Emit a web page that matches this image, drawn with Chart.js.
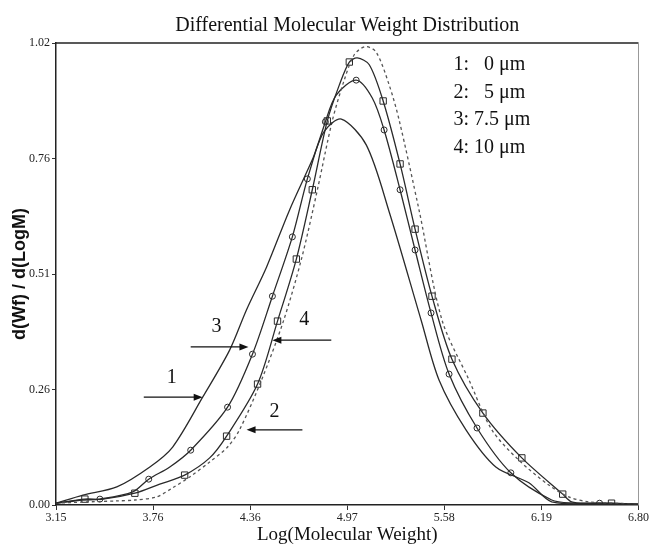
<!DOCTYPE html>
<html>
<head>
<meta charset="utf-8">
<script src="https://cdn.jsdelivr.net/npm/chart.js@4.4.1/dist/chart.umd.min.js"></script>
<style>
  html, body { margin: 0; padding: 0; background: #fff; }
</style>
</head>
<body>
<canvas id="mwdChart" width="650" height="547"></canvas>
<script>
// axis ticks as printed on the figure
const xTicks = [3.15, 3.7583, 4.3667, 4.975, 5.5833, 6.1917, 6.80];
const xTickLabels = ['3.15', '3.76', '4.36', '4.97', '5.58', '6.19', '6.80'];
const yTicks = [0, 0.255, 0.51, 0.765, 1.02];
const yTickLabels = ['0.00', '0.26', '0.51', '0.76', '1.02'];

// curve 1: 0 um (solid, no markers)
const logM1 = [3.150, 3.319, 3.531, 3.738, 3.881, 4.069, 4.238, 4.344, 4.469, 4.613, 4.756, 4.831, 4.938, 5.094, 5.238, 5.438, 5.550, 5.719, 5.906, 6.113, 6.256, 6.550, 6.800];
const wf1 = [0.004, 0.022, 0.040, 0.084, 0.128, 0.238, 0.342, 0.431, 0.525, 0.651, 0.762, 0.825, 0.852, 0.795, 0.647, 0.408, 0.276, 0.166, 0.084, 0.049, 0.007, 0.002, 0.002];

// curve 2: 5 um (dashed)
const logM2 = [3.150, 3.363, 3.531, 3.644, 3.781, 3.881, 3.988, 4.113, 4.225, 4.300, 4.438, 4.575, 4.688, 4.788, 4.881, 4.956, 5.019, 5.088, 5.156, 5.238, 5.300, 5.425, 5.569, 5.738, 5.881, 6.050, 6.238, 6.363, 6.488, 6.800];
const wf2 = [0.004, 0.007, 0.009, 0.011, 0.018, 0.038, 0.062, 0.095, 0.128, 0.166, 0.276, 0.406, 0.543, 0.696, 0.848, 0.938, 0.994, 1.012, 1.000, 0.927, 0.850, 0.651, 0.408, 0.276, 0.166, 0.099, 0.044, 0.018, 0.007, 0.002];

// curve 3: 7.5 um (circles)
const logM3 = [3.150, 3.319, 3.425, 3.631, 3.731, 3.863, 3.994, 4.225, 4.381, 4.506, 4.631, 4.725, 4.838, 4.906, 5.031, 5.131, 5.206, 5.306, 5.400, 5.500, 5.613, 5.788, 6.000, 6.256, 6.394, 6.556, 6.800];
const wf3 = [0.004, 0.011, 0.013, 0.029, 0.057, 0.084, 0.121, 0.216, 0.333, 0.461, 0.592, 0.720, 0.846, 0.905, 0.938, 0.899, 0.828, 0.696, 0.563, 0.424, 0.289, 0.170, 0.071, 0.011, 0.004, 0.004, 0.002];
const marks3 = [2, 4, 6, 7, 8, 9, 10, 11, 12, 14, 16, 17, 18, 19, 20, 21, 22, 25];

// curve 4: 10 um (squares)
const logM4 = [3.150, 3.331, 3.444, 3.644, 3.800, 3.956, 4.113, 4.219, 4.413, 4.538, 4.656, 4.756, 4.850, 4.925, 4.988, 5.038, 5.113, 5.200, 5.306, 5.400, 5.506, 5.631, 5.825, 6.069, 6.325, 6.381, 6.488, 6.631, 6.800];
const wf4 = [0.004, 0.013, 0.013, 0.026, 0.046, 0.066, 0.104, 0.152, 0.267, 0.406, 0.543, 0.696, 0.848, 0.927, 0.978, 0.987, 0.972, 0.892, 0.753, 0.609, 0.461, 0.322, 0.203, 0.104, 0.024, 0.007, 0.004, 0.004, 0.002];
const marks4 = [1, 3, 5, 7, 8, 9, 10, 11, 12, 14, 17, 18, 19, 20, 21, 22, 23, 24, 27];

const legendLines = ['1:   0 \u03bcm', '2:   5 \u03bcm', '3: 7.5 \u03bcm', '4: 10 \u03bcm'];

function points(xs, ys) {
    return xs.map((x, i) => ({ x: x, y: ys[i] }));
}

const ink = '#2a2a2a';
const serif = "'Liberation Serif', 'Times New Roman', serif";

// text and arrows placed in data units
const legendAt = { x: 5.64, y: [0.972, 0.910, 0.850, 0.788] };
const arrows = [
    { label: '1', lx: 3.875, ly: 0.280, from: 3.700, to: 4.069, y: 0.238 },
    { label: '3', lx: 4.156, ly: 0.393, from: 3.994, to: 4.356, y: 0.349 },
    { label: '4', lx: 4.706, ly: 0.408, from: 4.875, to: 4.506, y: 0.364 },
    { label: '2', lx: 4.519, ly: 0.205, from: 4.694, to: 4.344, y: 0.166 }
];

const framePlugin = {
    id: 'frame',
    afterDraw(chart) {
        const { ctx, chartArea: a } = chart;
        ctx.save();
        ctx.strokeStyle = '#222';
        ctx.lineWidth = 1.5;
        ctx.beginPath();
        ctx.moveTo(a.left, a.top);
        ctx.lineTo(a.right, a.top);
        ctx.stroke();
        ctx.strokeStyle = '#999';
        ctx.lineWidth = 1;
        ctx.beginPath();
        ctx.moveTo(a.right, a.top);
        ctx.lineTo(a.right, a.bottom);
        ctx.stroke();
        ctx.restore();
    }
};

const notesPlugin = {
    id: 'notes',
    afterDatasetsDraw(chart) {
        const { ctx } = chart;
        const sx = chart.scales.x, sy = chart.scales.y;
        ctx.save();
        ctx.fillStyle = '#111';
        ctx.strokeStyle = '#111';
        ctx.font = '20px ' + serif;
        ctx.textBaseline = 'middle';
        ctx.textAlign = 'left';
        legendLines.forEach((t, i) => {
            ctx.fillText(t, sx.getPixelForValue(legendAt.x), sy.getPixelForValue(legendAt.y[i]));
        });
        ctx.textAlign = 'center';
        ctx.lineWidth = 1.2;
        arrows.forEach(a => {
            const x0 = sx.getPixelForValue(a.from);
            const x1 = sx.getPixelForValue(a.to);
            const y = sy.getPixelForValue(a.y);
            const dir = x1 > x0 ? 1 : -1;
            ctx.beginPath();
            ctx.moveTo(x0, y);
            ctx.lineTo(x1 - dir * 6, y);
            ctx.stroke();
            ctx.beginPath();
            ctx.moveTo(x1, y);
            ctx.lineTo(x1 - dir * 9, y - 3.5);
            ctx.lineTo(x1 - dir * 9, y + 3.5);
            ctx.closePath();
            ctx.fill();
            ctx.fillText(a.label, sx.getPixelForValue(a.lx), sy.getPixelForValue(a.ly));
        });
        ctx.restore();
    }
};

const ctx = document.getElementById('mwdChart').getContext('2d');
const mwdChart = new Chart(ctx, {
    type: 'scatter',
    data: {
        datasets: [
            {
                label: '1: 0 um',
                data: points(logM1, wf1),
                showLine: true,
                borderColor: ink,
                borderWidth: 1.3,
                pointRadius: 0,
                tension: 0.3
            },
            {
                label: '2: 5 um',
                data: points(logM2, wf2),
                showLine: true,
                borderColor: '#555',
                borderWidth: 1.3,
                borderDash: [3, 3],
                pointRadius: 0,
                tension: 0.3
            },
            {
                label: '3: 7.5 um',
                data: points(logM3, wf3),
                showLine: true,
                borderColor: ink,
                borderWidth: 1.3,
                pointStyle: 'circle',
                pointRadius: c => marks3.includes(c.dataIndex) ? 3 : 0,
                pointBorderColor: ink,
                pointBorderWidth: 1,
                pointBackgroundColor: 'rgba(0,0,0,0)',
                tension: 0.3
            },
            {
                label: '4: 10 um',
                data: points(logM4, wf4),
                showLine: true,
                borderColor: ink,
                borderWidth: 1.3,
                pointStyle: 'rect',
                pointRadius: c => marks4.includes(c.dataIndex) ? 4.5 : 0,
                pointBorderColor: ink,
                pointBorderWidth: 1,
                pointBackgroundColor: 'rgba(0,0,0,0)',
                tension: 0.3
            }
        ]
    },
    options: {
        responsive: false,
        animation: false,
        devicePixelRatio: 1,
        layout: { padding: { left: 0, right: 10, top: 0, bottom: 0 } },
        plugins: {
            legend: { display: false },
            tooltip: { enabled: false },
            title: {
                display: true,
                text: 'Differential Molecular Weight Distribution',
                fullSize: false,
                color: '#111',
                font: { family: serif, size: 20, weight: 'normal' },
                padding: { top: 14, bottom: 5 }
            }
        },
        scales: {
            x: {
                type: 'linear',
                min: 3.15,
                max: 6.80,
                afterBuildTicks: s => { s.ticks = xTicks.map(v => ({ value: v })); },
                afterFit: s => { s.height = 42; },
                ticks: {
                    callback: (v, i) => xTickLabels[i],
                    autoSkip: false,
                    maxRotation: 0,
                    padding: 1,
                    color: '#222',
                    font: { family: serif, size: 12 }
                },
                grid: { drawOnChartArea: false, drawTicks: true, tickLength: 5, color: '#333' },
                border: { color: '#222', width: 1.5 },
                title: {
                    display: true,
                    text: 'Log(Molecular Weight)',
                    color: '#111',
                    font: { family: serif, size: 19 },
                    padding: { top: 0, bottom: 1 }
                }
            },
            y: {
                type: 'linear',
                min: 0,
                max: 1.02,
                afterBuildTicks: s => { s.ticks = yTicks.map(v => ({ value: v })); },
                afterFit: s => { s.width = 56; },
                ticks: {
                    callback: (v, i) => yTickLabels[i],
                    padding: 2,
                    color: '#222',
                    font: { family: serif, size: 12 }
                },
                grid: { drawOnChartArea: false, drawTicks: true, tickLength: 4, color: '#333' },
                border: { color: '#222', width: 1.5 },
                title: {
                    display: true,
                    text: 'd(Wf) / d(LogM)',
                    color: '#111',
                    font: { family: "'Liberation Sans', Arial, sans-serif", size: 18, weight: 'bold' },
                    padding: { top: 9, bottom: 0 }
                }
            }
        }
    },
    plugins: [framePlugin, notesPlugin]
});
</script>
</body>
</html>
